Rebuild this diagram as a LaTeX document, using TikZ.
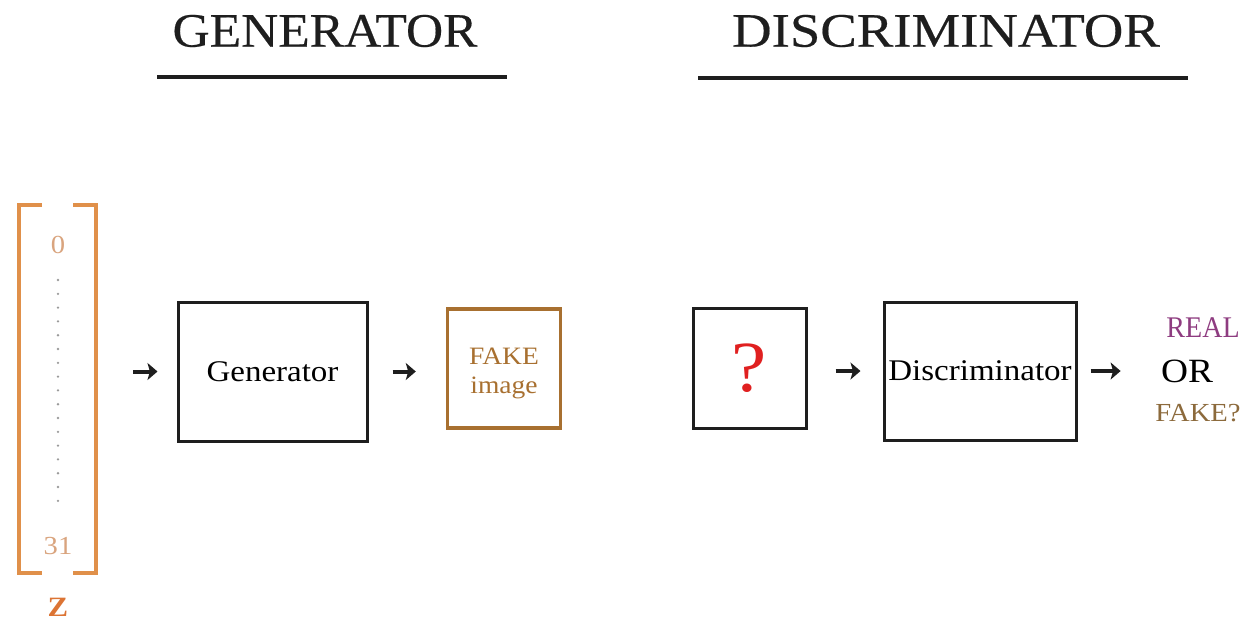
\documentclass[tikz,border=0pt]{standalone}
\usepackage{fontspec}
\setmainfont{Liberation Serif}[FakeStretch=1.1]
\newfontfamily\headfont{Liberation Serif}[FakeStretch=1.14,FakeBold=0.4]
\usetikzlibrary{arrows.meta}
\definecolor{ink}{HTML}{1E1E1E}
\definecolor{zorange}{HTML}{E0904A}
\definecolor{zdark}{HTML}{DC7434}
\definecolor{zlight}{HTML}{D9A47E}
\definecolor{fakebrown}{HTML}{A87030}
\definecolor{fakeolive}{HTML}{8C6A3C}
\definecolor{qred}{HTML}{E02020}
\definecolor{realpurple}{HTML}{8E3C80}
\definecolor{dotgray}{HTML}{9A9A9A}
\tikzset{
  head/.style={text=ink, font=\headfont\fontsize{24}{26}\selectfont, inner sep=0pt},
  rule/.style={draw=ink, line width=2.2pt},
  block/.style={draw=ink, line width=1.5pt, inner sep=0pt, font=\fontsize{15}{18}\selectfont},
  arr/.style={draw=ink, line width=2pt, -{Stealth[length=5pt,width=8.5pt,inset=1.2pt]}},
  brk/.style={draw=zorange, line width=2pt},
  zlab/.style={text=zlight, font=\fontsize{13}{15}\selectfont, inner sep=0pt},
  verd/.style={inner sep=0pt},
}

\begin{document}
\begin{tikzpicture}[x=0.5pt,y=-0.5pt]
  \useasboundingbox (0,0) rectangle (1245,634);
  % headings
  \node[head] (genhead) at (325,31) {\scalebox{0.94}[1]{GENERATOR}};
  \node[head] (dischead) at (946,31) {DISCRIMINATOR};
  \draw[rule] (157,77) -- (507,77);
  \draw[rule] (698,78) -- (1188,78);
  % latent vector z
  \node[minimum width=38.5pt, minimum height=184pt, inner sep=0pt, outer sep=0pt] (zvec) at (57.5,389) {};
  \draw[brk] ([xshift=11.5pt]zvec.north west) -- (zvec.north west) -- (zvec.south west) -- ([xshift=11.5pt]zvec.south west);
  \draw[brk] ([xshift=-11.5pt]zvec.north east) -- (zvec.north east) -- (zvec.south east) -- ([xshift=-11.5pt]zvec.south east);
  \node[zlab] (z0) at (58,245) {0};
  \node[zlab] (z31) at (58,546) {31};
  \draw[dotgray, line width=1.3pt, line cap=round, dash pattern=on 0pt off 6.9pt] (58,280) -- (58,503);
  \node[text=zdark, font=\bfseries\fontsize{14}{16}\selectfont] (zname) at (58,607) {Z};
  % generator side
  \node[block, minimum width=94.5pt, minimum height=69.5pt] (gen) at (272.5,371.5) {Generator};
  \node[block, draw=fakebrown, line width=1.7pt, minimum width=56.5pt, minimum height=59.5pt] (fake) at (504,368.5) {};
  \node[text=fakebrown, align=center, inner sep=0pt, font=\fontsize{12.5}{14.5}\selectfont]
    (fakelab) at ([yshift=-2.5pt]fake.center) {FAKE\\image};
  % discriminator side
  \node[block, minimum width=56.5pt, minimum height=60pt, text=qred, font=\fontsize{36}{36}\selectfont] (quest) at (749.5,368) {?};
  \node[block, minimum width=96pt, minimum height=69pt] (disc) at (980,371) {Discriminator};
  \node[verd, font=\fontsize{17}{20}\selectfont] (verdict) at (1187,371) {OR};
  \node[verd, text=realpurple, font=\fontsize{15}{17}\selectfont] (real) at (1203,328) {\scalebox{0.85}[1]{REAL}};
  \node[verd, text=fakeolive, font=\fontsize{13}{15}\selectfont] (fakeq) at (1198,413) {FAKE?};
  % arrows
  \draw[arr, shorten <=18.5pt, shorten >=9.5pt] (gen.west -| zvec.east) -- (gen.west);
  \draw[arr, shorten <=12pt, shorten >=15pt] (gen.east) -- (gen.east -| fake.west);
  \draw[arr, shorten <=14pt, shorten >=11pt] (disc.west -| quest.east) -- (disc.west);
  \draw[arr, shorten <=6.5pt, shorten >=20pt] (disc.east) -- (disc.east -| verdict.west);
\end{tikzpicture}
\end{document}
